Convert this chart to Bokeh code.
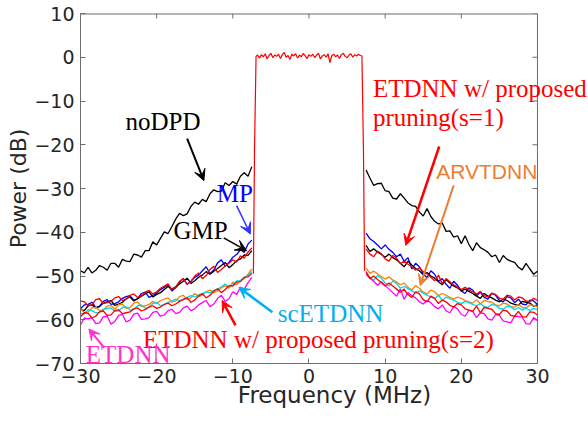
from bokeh.plotting import figure
from bokeh.models import Label, Arrow, VeeHead, Range1d, FixedTicker
from bokeh.embed import file_html
from bokeh.resources import INLINE

# ---------------- data ----------------
freq_left = [-30.0 + 0.5 * i for i in range(46)]   # -30 ... -7.5 MHz
freq_right = [7.5 + 0.5 * i for i in range(46)]    # 7.5 ... 30 MHz
freq_inband = [-6.75 + 0.25 * i for i in range(55)]

edge_left_freq = [-7.3, -7.15, -6.95]
edge_left_power = [-49.5, -21.0, 0.2]
edge_right_freq = [6.95, 7.15, 7.3]
edge_right_power = [0.3, -21.0, -48.8]

inband_power = [
    0.5, -0.2, 0.6, 0.1, 0.8, -0.4, 0.4, 0.9, -0.1, 0.5,
    0.2, 0.7, -0.3, 0.6, 1.1, 0.0, 0.4, -0.5, 0.7, 0.3,
    0.8, -0.2, 0.5, 0.1, 0.9, 0.3, -0.3, 0.6, 0.2, 0.7,
    -0.1, 0.5, 0.9, -0.4, 0.3, 0.6, 0.0, 0.8, -1.2, 0.4,
    0.7, 0.1, 0.5, -0.3, 0.6, 0.9, 0.2, -0.1, 0.5, 0.8,
    0.0, 0.6, 0.3, 0.7, 0.4]

nodpd_left = [
    -48.8, -49.3, -48.0, -49.3, -48.7, -47.6, -48.0, -48.7, -47.1, -47.1,
    -48.0, -46.2, -46.6, -46.7, -45.0, -45.2, -45.7, -44.2, -44.2, -42.2,
    -42.9, -41.4, -39.9, -40.3, -38.7, -37.0, -35.7, -36.2, -35.8, -34.1,
    -33.1, -33.6, -32.5, -33.0, -31.2, -30.3, -30.7, -30.6, -28.7, -29.3,
    -28.4, -29.0, -27.2, -26.4, -27.2, -25.0]
nodpd_right = [
    -25.8, -27.6, -29.3, -28.9, -28.8, -30.5, -30.7, -32.2, -32.4, -31.2,
    -32.2, -33.3, -33.9, -34.1, -35.4, -36.3, -34.6, -36.4, -37.5, -38.1,
    -37.9, -39.8, -39.7, -41.1, -40.8, -42.6, -40.8, -42.8, -44.2, -42.4,
    -43.5, -44.0, -44.6, -45.6, -45.2, -46.9, -45.3, -46.2, -46.6, -46.9,
    -48.0, -48.6, -47.1, -48.4, -49.6, -48.9]

mp_left = [
    -57.5, -56.6, -56.5, -56.0, -57.2, -56.9, -55.8, -55.4, -56.5, -56.3,
    -55.9, -55.1, -54.7, -54.5, -55.5, -55.2, -54.0, -53.7, -54.9, -54.4,
    -53.9, -53.1, -52.6, -52.0, -53.4, -52.7, -51.4, -50.6, -51.9, -51.2,
    -50.3, -49.8, -48.8, -47.9, -49.5, -48.6, -47.0, -46.3, -47.8, -46.9,
    -45.7, -45.1, -44.0, -44.6, -42.7, -41.8]
mp_right = [
    -40.2, -41.5, -42.1, -42.9, -43.8, -42.9, -43.9, -44.6, -45.6, -45.0,
    -46.7, -45.8, -48.4, -47.1, -47.9, -49.5, -50.4, -48.8, -49.6, -51.2,
    -50.6, -51.9, -52.8, -51.2, -52.1, -53.4, -54.0, -52.7, -53.2, -54.5,
    -53.7, -54.9, -55.3, -54.0, -54.4, -55.6, -55.9, -54.7, -55.0, -56.1,
    -55.3, -56.4, -56.6, -55.5, -55.7, -56.5]

gmp_left = [
    -57.6, -57.9, -56.8, -56.6, -57.3, -57.0, -56.2, -55.9, -55.6, -56.7,
    -56.4, -56.0, -55.2, -54.8, -55.7, -55.2, -54.6, -54.1, -53.6, -54.8,
    -54.2, -53.8, -53.1, -52.4, -53.0, -52.5, -51.8, -51.2, -50.5, -51.7,
    -51.1, -50.3, -49.8, -49.0, -49.6, -48.9, -48.3, -47.6, -46.9, -48.1,
    -47.4, -46.5, -46.1, -45.2, -45.3, -44.2]
gmp_right = [
    -43.0, -44.4, -43.8, -44.5, -45.1, -45.7, -45.0, -45.8, -46.3, -47.1,
    -47.9, -46.6, -47.5, -48.3, -48.8, -49.7, -49.2, -50.0, -50.5, -51.3,
    -52.0, -50.8, -51.6, -52.3, -52.7, -53.4, -53.0, -53.5, -54.0, -54.6,
    -55.1, -54.0, -54.6, -55.0, -55.5, -55.9, -55.3, -55.6, -56.2, -56.5,
    -56.7, -55.8, -56.0, -56.2, -56.9, -56.6]

arvtdnn_left = [
    -57.5, -58.4, -58.2, -57.3, -57.1, -57.9, -57.8, -56.9, -56.7, -57.6,
    -56.6, -56.4, -57.4, -57.2, -56.2, -55.9, -57.0, -56.8, -56.5, -55.8,
    -56.3, -55.6, -55.3, -55.0, -56.0, -55.7, -54.7, -54.4, -55.4, -55.0,
    -54.0, -54.7, -54.3, -53.6, -53.2, -53.8, -53.4, -52.7, -52.2, -52.8,
    -51.4, -52.0, -51.0, -50.6, -49.6, -48.4]
arvtdnn_right = [
    -48.2, -49.4, -48.9, -49.5, -50.1, -50.7, -50.2, -50.9, -51.4, -52.0,
    -51.6, -52.6, -53.2, -52.2, -52.8, -53.7, -54.1, -53.2, -53.6, -54.5,
    -54.0, -54.4, -54.9, -55.3, -54.8, -55.1, -55.6, -55.9, -56.2, -55.4,
    -56.4, -55.6, -55.8, -56.0, -56.6, -56.8, -56.2, -56.4, -57.0, -57.1,
    -56.5, -57.2, -57.3, -56.6, -56.7, -57.0]

scetdnn_left = [
    -58.5, -58.7, -57.7, -57.9, -58.4, -58.3, -57.6, -57.4, -57.3, -58.1,
    -58.0, -57.2, -57.0, -57.8, -57.6, -56.8, -56.6, -57.4, -57.1, -56.3,
    -56.0, -56.8, -56.5, -56.1, -55.7, -55.3, -55.7, -55.3, -54.9, -54.5,
    -54.8, -54.3, -54.1, -53.6, -53.8, -53.3, -53.0, -52.5, -51.8, -52.6,
    -52.0, -51.1, -51.1, -50.3, -49.9, -49.0]
scetdnn_right = [
    -49.2, -50.4, -51.0, -49.9, -50.5, -51.6, -52.3, -51.1, -51.7, -52.8,
    -52.4, -52.9, -53.4, -53.9, -53.4, -53.9, -54.4, -54.8, -55.2, -54.4,
    -55.6, -54.8, -55.2, -55.5, -56.0, -56.3, -55.8, -56.1, -56.5, -56.8,
    -56.3, -57.0, -57.2, -56.5, -56.7, -57.4, -57.6, -56.9, -57.0, -57.7,
    -57.2, -57.8, -57.3, -57.9, -57.4, -57.7]

etdnn_left = [
    -61.2, -59.6, -59.8, -59.5, -60.9, -60.7, -59.3, -59.2, -61.0, -60.4,
    -59.0, -58.8, -60.5, -60.1, -58.7, -58.5, -59.9, -59.8, -59.5, -58.3,
    -58.1, -59.2, -58.9, -57.9, -57.6, -58.6, -58.3, -57.3, -56.9, -57.9,
    -57.5, -56.6, -56.1, -55.6, -57.0, -56.4, -55.1, -54.4, -55.8, -55.2,
    -53.6, -54.2, -52.6, -53.0, -51.5, -50.3]
etdnn_right = [
    -49.6, -50.5, -51.2, -52.1, -51.3, -52.2, -53.0, -53.8, -54.6, -53.0,
    -55.3, -53.8, -54.5, -55.0, -55.9, -56.4, -55.6, -56.1, -57.0, -57.5,
    -56.6, -58.0, -58.4, -57.0, -57.5, -58.8, -59.2, -57.8, -58.1, -59.5,
    -58.4, -58.6, -59.8, -60.1, -58.8, -59.0, -60.3, -60.5, -60.7, -59.2,
    -59.3, -59.4, -60.9, -61.0, -59.5, -60.2]

prun2_left = [
    -59.3, -58.4, -58.5, -59.6, -59.2, -58.2, -58.0, -59.0, -58.9, -57.9,
    -57.7, -58.6, -58.4, -58.2, -57.5, -57.3, -58.0, -57.7, -57.1, -56.8,
    -57.4, -57.1, -56.5, -56.2, -56.8, -56.4, -55.8, -55.4, -55.0, -56.0,
    -55.5, -54.6, -54.0, -55.0, -54.4, -53.5, -52.9, -53.8, -53.1, -52.2,
    -52.3, -51.4, -51.3, -50.3, -50.2, -49.4]
prun2_right = [
    -49.0, -50.6, -50.0, -50.8, -51.5, -52.3, -51.6, -52.3, -53.0, -53.7,
    -53.0, -54.3, -54.9, -53.6, -54.1, -55.4, -55.9, -54.6, -55.1, -56.3,
    -55.5, -55.9, -56.7, -57.1, -56.3, -56.6, -57.5, -57.8, -58.1, -56.9,
    -58.4, -57.2, -57.4, -57.6, -58.6, -58.8, -57.8, -58.0, -59.0, -59.2,
    -58.1, -59.3, -59.4, -58.2, -58.3, -58.9]

prun1_left = [
    -55.7, -55.9, -56.8, -56.6, -55.4, -55.2, -56.3, -56.1, -55.8, -55.0,
    -54.7, -55.6, -55.3, -54.4, -54.1, -54.9, -54.6, -53.7, -53.3, -54.1,
    -53.6, -52.8, -52.3, -51.8, -53.1, -52.5, -51.2, -50.6, -51.9, -51.3,
    -50.0, -49.3, -50.6, -49.9, -48.5, -47.8, -49.2, -48.5, -47.7, -47.1,
    -46.3, -46.8, -45.4, -45.9, -44.5, -43.6]
prun1_right = [
    -43.8, -45.0, -45.6, -44.3, -44.9, -46.1, -46.6, -45.3, -45.9, -47.2,
    -46.6, -47.3, -47.9, -48.7, -48.1, -49.0, -49.5, -50.3, -51.1, -49.8,
    -51.8, -50.6, -51.3, -52.0, -52.5, -53.1, -52.6, -53.1, -53.6, -54.1,
    -53.5, -54.5, -54.8, -53.9, -54.2, -55.1, -55.3, -54.4, -54.6, -55.5,
    -54.8, -55.0, -55.7, -55.9, -55.1, -55.6]

x_ticks = [-30, -20, -10, 0, 10, 20, 30]
y_ticks = [-70, -60, -50, -40, -30, -20, -10, 0, 10]

# ---------------- figure ----------------
TICK_FONT = "DejaVu Sans"
SERIF = "Liberation Serif"
AX_COL = "#6e6e6e"
X_VIEW_END = 36.7          # frame extends past the box so right-side texts are not clipped
TICK_X = 0.66              # 5 px inward tick, in MHz
TICK_Y = 1.14              # 5 px inward tick, in dB
LIFT = 2.05                # baseline correction for labels, in dB

p = figure(width=588, height=426, output_backend="svg", toolbar_location=None,
           x_range=Range1d(x_ticks[0], X_VIEW_END), y_range=Range1d(y_ticks[0], y_ticks[-1]),
           min_border_left=80, min_border_right=0, min_border_top=13,
           min_border_bottom=63)
p.xgrid.visible = False
p.ygrid.visible = False
p.outline_line_color = None
p.background_fill_color = "white"
p.border_fill_color = "white"

for ax, ticks in ((p.xaxis[0], x_ticks), (p.yaxis[0], y_ticks)):
    ax.ticker = FixedTicker(ticks=ticks)
    ax.bounds = (ticks[0], ticks[-1])
    ax.axis_line_color = AX_COL
    ax.major_tick_line_color = AX_COL
    ax.major_tick_in = 5
    ax.major_tick_out = 0
    ax.minor_tick_line_color = None
    ax.major_label_text_font = TICK_FONT
    ax.major_label_text_color = "#262626"
    ax.major_label_text_font_size = "19px"
    ax.axis_label_text_font = TICK_FONT
    ax.axis_label_text_font_style = "normal"
    ax.axis_label_text_color = "#262626"

p.xaxis[0].axis_label = "Frequency (MHz)"
p.yaxis[0].axis_label = "Power (dB)"
p.xaxis[0].axis_label_text_font_size = "23px"
p.yaxis[0].axis_label_text_font_size = "22px"
p.xaxis[0].major_label_standoff = 5
p.xaxis[0].axis_label_standoff = -4
p.yaxis[0].major_label_standoff = 6
p.yaxis[0].axis_label_standoff = 0

# box: top and right edges with inward ticks
p.line([x_ticks[0], x_ticks[-1]], [y_ticks[-1], y_ticks[-1]], line_color=AX_COL, line_width=2)
p.line([x_ticks[-1], x_ticks[-1]], [y_ticks[0], y_ticks[-1]], line_color=AX_COL, line_width=1)
p.segment(x0=x_ticks, y0=[y_ticks[-1]] * len(x_ticks), x1=x_ticks,
          y1=[y_ticks[-1] - TICK_Y] * len(x_ticks), line_color=AX_COL, line_width=1)
p.segment(x0=[x_ticks[-1]] * len(y_ticks), y0=y_ticks,
          x1=[x_ticks[-1] - TICK_X] * len(y_ticks), y1=y_ticks, line_color=AX_COL, line_width=1)

# ---------------- lines ----------------
series = [
    (nodpd_left, nodpd_right, "black"),
    (mp_left, mp_right, "#0000ff"),
    (gmp_left, gmp_right, "black"),
    (arvtdnn_left, arvtdnn_right, "#ff8000"),
    (scetdnn_left, scetdnn_right, "#00d8e8"),
    (etdnn_left, etdnn_right, "#ff00ff"),
    (prun2_left, prun2_right, "#ff0000"),
    (prun1_left, prun1_right, "#ff0000"),
]
for left, right, col in series:
    p.line(freq_left, left, line_color=col, line_width=1.3)
    p.line(freq_right, right, line_color=col, line_width=1.3)

p.line(edge_left_freq + freq_inband + edge_right_freq,
       edge_left_power + inband_power + edge_right_power,
       line_color="#ff0000", line_width=1.2)

# ---------------- annotations ----------------
def label(x, y, text, color, font=SERIF, size="25px", lift=LIFT):
    p.add_layout(Label(x=x, y=y + lift, text=text, text_color=color, text_font=font,
                       text_font_size=size, text_baseline="alphabetic",
                       text_align="left"))

def arrow(x0, y0, x1, y1, color, width=2):
    p.add_layout(Arrow(end=VeeHead(size=11, fill_color=color, line_color=color),
                       x_start=x0, y_start=y0, x_end=x1, y_end=y1,
                       line_color=color, line_width=width))

label(-24.1, -16.7, "noDPD", "black")
arrow(-16.0, -18.6, -13.8, -28.2, "black")
label(-12.1, -33.1, "MP", "#0000ff")
arrow(-9.5, -33.9, -7.7, -40.4, "#3333ff", 1.5)
label(-17.8, -41.7, "GMP", "black")
arrow(-11.2, -41.3, -8.2, -44.2, "black", 1.5)
label(-4.1, -60.6, "scETDNN", "#00b0f0")
arrow(-4.8, -58.3, -9.2, -52.6, "#00b0f0", 2.5)
label(-21.8, -66.6, "ETDNN w/ proposed pruning(s=2)", "#ff0000")
arrow(-9.65, -61.3, -11.4, -55.6, "#ff0000", 2.5)
label(-29.3, -70.0, "ETDNN", "#ff33cc")
arrow(-26.9, -66.4, -28.9, -62.1, "#ff33cc", 2)
label(8.4, -9.1, "ETDNN w/ proposed", "#ff0000")
label(8.4, -15.9, "pruning(s=1)", "#ff0000")
arrow(17.1, -20.4, 12.7, -43.0, "#ff0000", 2.5)
label(16.7, -28.0, "ARVTDNN", "#ed7d31", font="Liberation Sans", size="21px", lift=1.85)
arrow(19.0, -29.3, 14.6, -52.2, "#ed7d31", 2)

open("out.html", "w").write(file_html(p, INLINE))
